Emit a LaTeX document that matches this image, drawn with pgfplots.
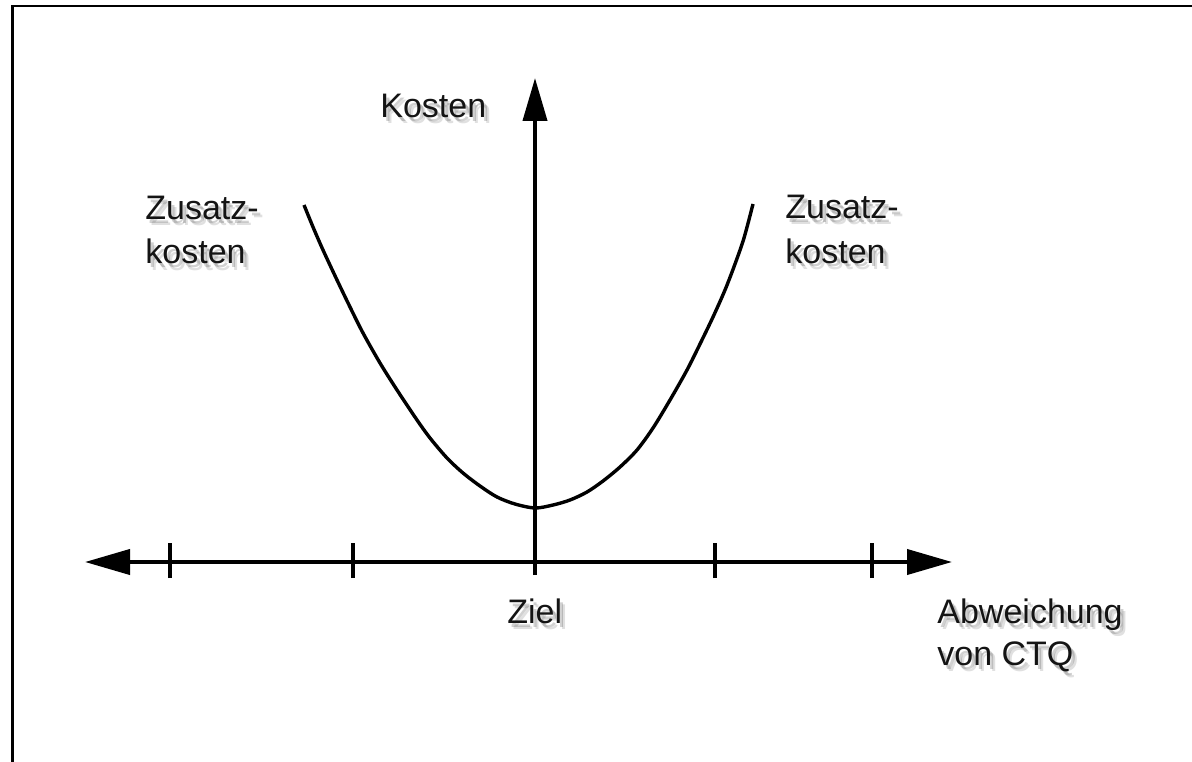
\documentclass[border=0pt]{standalone}
\usepackage{pgfplots}
\pgfplotsset{compat=1.18}
\usepackage{fontspec}
\setmainfont{Liberation Sans}
\usetikzlibrary{arrows.meta}
\definecolor{txt}{HTML}{141414}

% label with a soft drop shadow, baseline at (x,y)
\newcommand{\lbl}[3]{%
  \node[anchor=base west, inner sep=0pt, text=black, opacity=0.12, xshift=2.6pt, yshift=-3pt] at (axis cs:#1,#2) {#3};
  \node[anchor=base west, inner sep=0pt, text=black, opacity=0.18, xshift=1.6pt, yshift=-2pt] at (axis cs:#1,#2) {#3};
  \node[anchor=base west, inner sep=0pt, text=txt] at (axis cs:#1,#2) {#3};}

\begin{document}
\begin{tikzpicture}[font=\fontsize{17}{20}\selectfont]
\begin{axis}[
  width=596pt, height=380.5pt, scale only axis,
  xmin=0, xmax=1192, ymin=0, ymax=761,
  hide axis,
]
% frame (right and bottom edges lie outside the picture)
\addplot[black, line width=1.3pt] coordinates {(12.5,-10) (12.5,755) (1210,755)};

% axes
\addplot[black, line width=2pt,
  {Triangle[length=22.5pt,width=12.5pt]}-{Triangle[length=22.5pt,width=12.5pt]}]
  coordinates {(85,199) (952,199)};
\addplot[black, line width=2pt, -{Triangle[length=21.5pt,width=12pt]}]
  coordinates {(535,186) (535,683)};

% ticks
\addplot[black, line width=2pt] coordinates {(170,183) (170,218)};
\addplot[black, line width=2pt] coordinates {(353,183) (353,218)};
\addplot[black, line width=2pt] coordinates {(715,183) (715,218)};
\addplot[black, line width=2pt] coordinates {(872,183) (872,218)};

% cost curve
\addplot[black, line width=1.7pt, smooth, tension=0.5] coordinates {
  (304,556) (313,534) (323,511) (337,481) (350,454) (363,428) (380,398)
  (397,371) (417,341) (430,323) (447,303) (463,288) (480,275) (497,264)
  (515,257) (535,253) (553,256) (570,261) (587,269) (603,280) (620,294)
  (637,311) (653,333) (670,361) (687,391) (700,417) (713,444) (725,471)
  (735,497) (744,523) (753,557)};

\lbl{380}{643}{Kosten}
\lbl{145}{541}{Zusatz-}
\lbl{145}{497}{kosten}
\lbl{785}{542}{Zusatz-}
\lbl{785}{498}{kosten}
\lbl{507}{138}{Ziel}
\lbl{937}{138}{Abweichung}
\lbl{937}{96}{von CTQ}
\end{axis}
\pgfresetboundingbox
\path (0,0) rectangle (596pt,380.5pt);
\end{tikzpicture}
\end{document}
